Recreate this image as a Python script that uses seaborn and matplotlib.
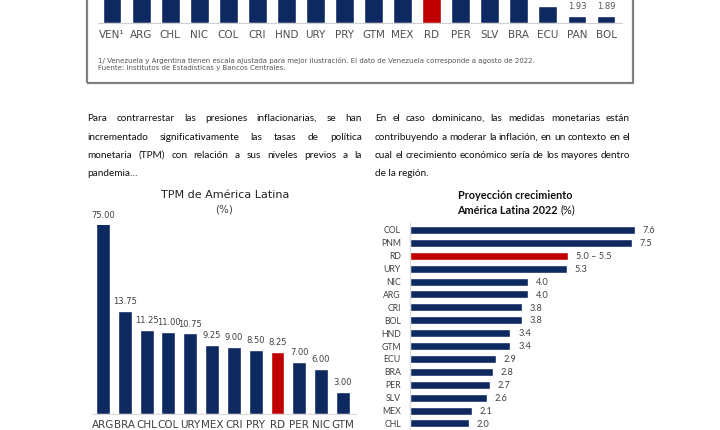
import matplotlib
matplotlib.use('Agg')
import matplotlib.pyplot as plt
import seaborn as sns
from matplotlib.patches import Rectangle

# Colores del informe
AZUL = '#0e2860'
ROJO = '#c00000'
GRIS = '#404040'

# --- Datos ---
# Inflación interanual (gráfico superior, recortado en la página)
inf_paises = ['VEN¹', 'ARG', 'CHL', 'NIC', 'COL', 'CRI', 'HND', 'URY', 'PRY',
              'GTM', 'MEX', 'RD', 'PER', 'SLV', 'BRA', 'ECU', 'PAN', 'BOL']
inf_valores = [114.1, 83.0, 13.7, 12.1, 11.4, 11.3, 10.6, 9.9, 9.3,
               8.9, 8.7, 8.6, 8.5, 7.5, 7.2, 4.3, 1.93, 1.89]

# TPM de América Latina (%)
tpm_paises = ['ARG', 'BRA', 'CHL', 'COL', 'URY', 'MEX', 'CRI', 'PRY', 'RD', 'PER', 'NIC', 'GTM']
tpm_valores = [75.00, 13.75, 11.25, 11.00, 10.75, 9.25, 9.00, 8.50, 8.25, 7.00, 6.00, 3.00]

# Proyección crecimiento 2022 (%)
crec_paises = ['COL', 'PNM', 'RD', 'URY', 'NIC', 'ARG', 'CRI', 'BOL',
               'HND', 'GTM', 'ECU', 'BRA', 'PER', 'SLV', 'MEX', 'CHL']
crec_valores = [7.6, 7.5, 5.35, 5.3, 4.0, 4.0, 3.8, 3.8, 3.4, 3.4, 2.9, 2.8, 2.7, 2.6, 2.1, 2.0]
crec_etiquetas = ['7.6', '7.5', '5.0 – 5.5', '5.3', '4.0', '4.0', '3.8', '3.8',
                  '3.4', '3.4', '2.9', '2.8', '2.7', '2.6', '2.1', '2.0']

nota = ['1/ Venezuela y Argentina tienen escala ajustada para mejor ilustración. '
        'El dato de Venezuela corresponde a agosto de 2022.',
        'Fuente: Institutos de Estadísticas y Bancos Centrales.']

parrafo_izq = ['Para contrarrestar las presiones inflacionarias, se han',
               'incrementado significativamente las tasas de política',
               'monetaria (TPM) con relación a sus niveles previos a la',
               'pandemia…']
parrafo_der = ['En el caso dominicano, las medidas monetarias están',
               'contribuyendo a moderar la inflación, en un contexto en el',
               'cual el crecimiento económico sería de los mayores dentro',
               'de la región.']

sns.set_style('white')
plt.rcParams['font.family'] = ['DejaVu Sans']

W, H = 720, 430
fig = plt.figure(figsize=(7.2, 4.3), dpi=100)
r = fig.canvas.get_renderer()


def fx(x):
    return x / W


def fy(y):
    return 1 - y / H


def eje(x0, y0, x1, y1):
    return fig.add_axes([x0 / W, 1 - y1 / H, (x1 - x0) / W, (y1 - y0) / H])


def colores(paises):
    return {p: (ROJO if p == 'RD' else AZUL) for p in paises}


# --- Gráfico superior (inflación), cortado por arriba ---
ax1 = eje(98, -100, 622, 23.3)
sns.barplot(x=inf_paises, y=inf_valores, hue=inf_paises, palette=colores(inf_paises),
            legend=False, width=0.65, saturation=1, ax=ax1)
ax1.set_xlim(-0.482, 17.55)
ax1.set_ylim(0, 123.3 / 4.0)
# solo se ven las etiquetas de las barras bajas; las demás quedan fuera de la página
for i, v in enumerate(inf_valores):
    if v < 3:
        ax1.annotate(f'{v:.2f}', xy=(i, v), xytext=(0, 3.5), textcoords='offset points',
                     ha='center', va='bottom', fontsize=6, color='#555555')
ax1.tick_params(axis='x', length=0, pad=5, labelsize=7.5, labelcolor='#505050')
ax1.set_yticks([])
ax1.set_xlabel('')
sns.despine(ax=ax1, left=True)
ax1.spines['bottom'].set_color('#d0d0d0')

fig.text(fx(98), fy(61), nota[0], fontsize=5, color='#555555', va='center')
fig.text(fx(98), fy(68), nota[1], fontsize=5, color='#555555', va='center')
fig.add_artist(Rectangle((fx(87), fy(83)), fx(633) - fx(87), fy(-10) - fy(83),
                         transform=fig.transFigure, fill=False,
                         edgecolor='#808080', lw=1.6))


# --- Párrafos justificados ---
def ancho_texto(s, **kw):
    t = fig.text(0, 0, s, **kw)
    w = t.get_window_extent(r).width
    t.remove()
    return w


def holgura(lineas, x0, x1, **kw):
    # menor espacio entre palabras que queda al justificar
    m = 99
    for linea in lineas[:-1]:
        p = linea.split()
        suma = sum(ancho_texto(w, **kw) for w in p)
        m = min(m, (x1 - x0 - suma) / (len(p) - 1))
    return m


def justificar(lineas, x0, x1, ys, **kw):
    for k, (linea, y) in enumerate(zip(lineas, ys)):
        if k == len(lineas) - 1:
            fig.text(fx(x0), fy(y), linea, **kw)
            continue
        palabras = linea.split()
        textos = [fig.text(0, fy(y), p, **kw) for p in palabras]
        anchos = [t.get_window_extent(r).width for t in textos]
        hueco = (x1 - x0 - sum(anchos)) / (len(palabras) - 1)
        x = x0
        for t, a in zip(textos, anchos):
            t.set_x(fx(x))
            x += a + hueco


ys_par = [121, 139.5, 158, 176.5]
estilo_par = dict(family='Lato', color='#111111', va='baseline')
tam = 8.6
while tam > 6.5 and min(holgura(parrafo_izq, 87, 362, fontsize=tam, **estilo_par),
                        holgura(parrafo_der, 375, 630, fontsize=tam, **estilo_par)) < 2.1:
    tam -= 0.1
justificar(parrafo_izq, 87, 362, ys_par, fontsize=tam, **estilo_par)
justificar(parrafo_der, 375, 630, ys_par, fontsize=tam, **estilo_par)

# --- TPM de América Latina ---
ax2 = eje(92, 225, 356, 414)
sns.barplot(x=tpm_paises, y=tpm_valores, hue=tpm_paises, palette=colores(tpm_paises),
            legend=False, width=0.64, saturation=1, ax=ax2)
tope = 189 / 7.5
ax2.set_xlim(-0.505, 11.6)
ax2.set_ylim(0, tope)
for i, v in enumerate(tpm_valores):
    ax2.annotate(f'{v:.2f}', xy=(i, min(v, tope)), xytext=(0, 3.5), textcoords='offset points',
                 ha='center', va='bottom', fontsize=6, color=GRIS, annotation_clip=False)
ax2.tick_params(axis='x', length=0, pad=4, labelsize=7.5, labelcolor=GRIS)
ax2.set_yticks([])
sns.despine(ax=ax2, left=True)
ax2.spines['bottom'].set_color('#d9d9d9')
fig.text(fx(225), fy(195), 'TPM de América Latina', fontsize=8, color='#222222',
         ha='center', va='center')
fig.text(fx(224), fy(210), '(%)', fontsize=7.5, color=GRIS, ha='center', va='center')

# --- Proyección crecimiento ---
ax3 = eje(410, 223, 710, 440)
sns.barplot(x=crec_valores, y=crec_paises, hue=crec_paises, palette=colores(crec_paises),
            legend=False, orient='h', width=0.62, saturation=1, ax=ax3)
ax3.set_xlim(0, 300 / 29.55)
ax3.set_ylim(16.28, -0.54)
for i, (v, et) in enumerate(zip(crec_valores, crec_etiquetas)):
    ax3.annotate(et, xy=(v, i), xytext=(5.5, -0.5), textcoords='offset points',
                 ha='left', va='center', fontsize=6.6, family='Lato', color=GRIS)
ax3.set_yticks(range(len(crec_paises)))
ax3.set_yticklabels(crec_paises, family='Lato', fontsize=6.3, color=GRIS)
ax3.tick_params(axis='y', length=0, pad=6.5)
ax3.set_xticks([])
ax3.set_ylabel('')
sns.despine(ax=ax3, bottom=True)
ax3.spines['left'].set_color('#d9d9d9')

fig.text(fx(515.5), fy(196), 'Proyección crecimiento', fontsize=7.8, family='Lato',
         weight='bold', color='#111111', ha='center', va='center')
t_a = fig.text(0, fy(210), 'América Latina 2022 ', fontsize=7.8, family='Lato',
               weight='bold', color='#111111', va='center')
t_b = fig.text(0, fy(210), '(%)', fontsize=7.8, family='Lato', color='#111111', va='center')
wa = t_a.get_window_extent(r).width
wb = t_b.get_window_extent(r).width
x_ini = 516 - (wa + wb) / 2
t_a.set_x(fx(x_ini))
t_b.set_x(fx(x_ini + wa))

fig.savefig('out.png', dpi=100)
